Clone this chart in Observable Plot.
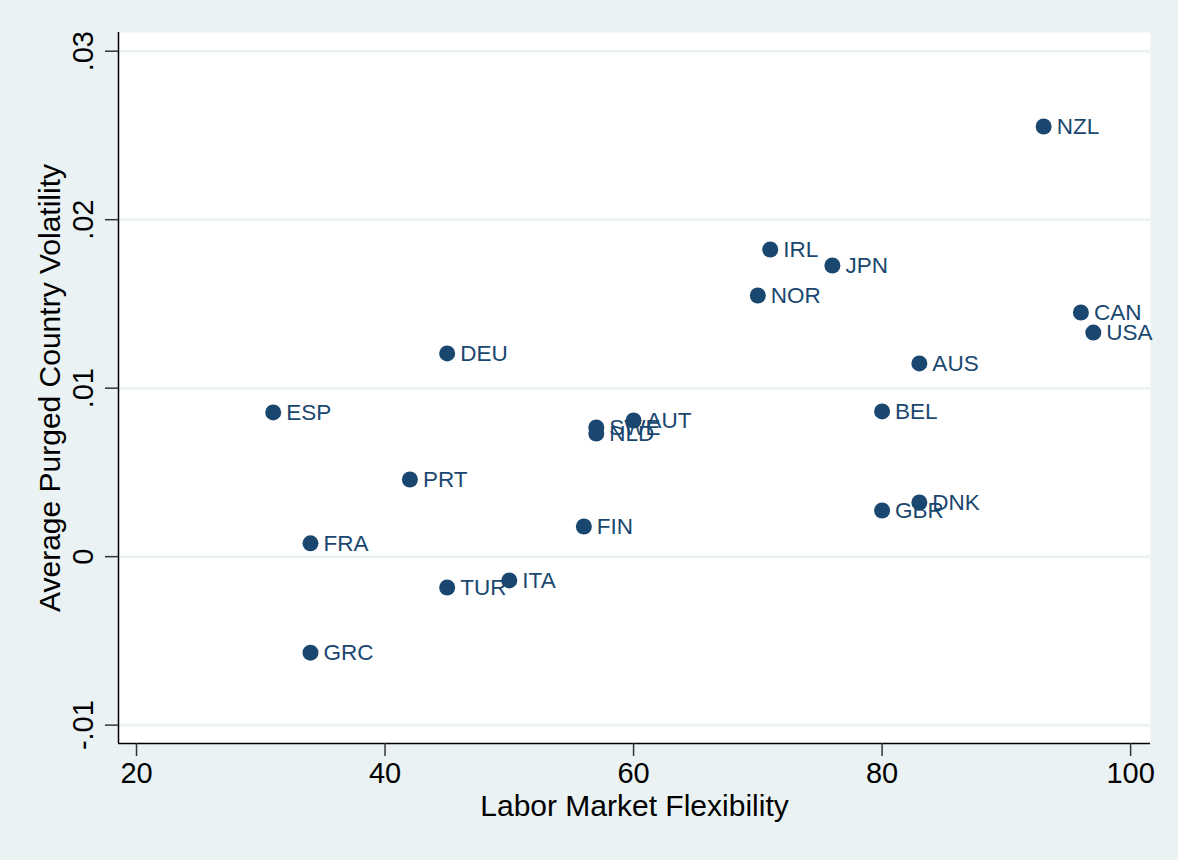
<!DOCTYPE html>
<html>
<head>
<meta charset="utf-8">
<script src="https://cdn.jsdelivr.net/npm/d3@7"></script>
<script src="https://cdn.jsdelivr.net/npm/@observablehq/plot@0.6"></script>
<style>
  html, body { margin: 0; padding: 0; background: #eaf2f3; }
  #chart svg { display: block; }
</style>
</head>
<body>
<div id="chart"></div>
<script>
// Data
const countries = ["NZL","IRL","JPN","NOR","CAN","USA","AUS","DEU","ESP","BEL","AUT","SWE","NLD","PRT","DNK","GBR","FIN","FRA","ITA","TUR","GRC"];
const flexibility = [93, 71, 76, 70, 96, 97, 83, 45, 31, 80, 60, 57, 57, 42, 83, 80, 56, 34, 50, 45, 34];
const volatility = [0.02553, 0.01823, 0.01728, 0.0155, 0.01449, 0.0133, 0.01147, 0.01206, 0.00856, 0.00862, 0.00808, 0.00767, 0.00731, 0.00458, 0.00322, 0.00274, 0.00179, 0.00079, -0.00141, -0.00183, -0.0057];

const xTicks = [20, 40, 60, 80, 100];
const yTicks = [-0.01, 0, 0.01, 0.02, 0.03];
const yTickLabels = ["-.01", "0", ".01", ".02", ".03"];
const xTitle = "Labor Market Flexibility";
const yTitle = "Average Purged Country Volatility";

const data = countries.map((c, i) => ({country: c, x: flexibility[i], y: volatility[i]}));
const yLab = yTicks.map((v, i) => ({v, label: yTickLabels[i]}));

const xDomain = [18.55, 101.6];
const yDomain = [-0.01109, 0.03111];
const navy = "#1a476f";
const font = "'Liberation Sans', Arial, Helvetica, sans-serif";

const chart = Plot.plot({
  width: 1178,
  height: 860,
  marginLeft: 118,
  marginRight: 28,
  marginTop: 32,
  marginBottom: 117,
  style: {background: "#eaf2f3", fontFamily: font, overflow: "visible"},
  x: {domain: xDomain, axis: null, label: null},
  y: {domain: yDomain, axis: null, label: null},
  marks: [
    Plot.frame({fill: "white", stroke: null}),
    Plot.ruleY(yTicks, {y: d => d, stroke: "#eaf2f3", strokeWidth: 2.5}),
    Plot.ruleX([xDomain[0]], {stroke: "#000", strokeWidth: 1.5}),
    Plot.ruleY([yDomain[0]], {stroke: "#000", strokeWidth: 1.5}),
    Plot.axisX({ticks: xTicks, label: null, tickSize: 13, tickPadding: 6, tickFormat: d => String(d), fontSize: 29, fill: "#000", stroke: "#333", strokeWidth: 1.5}),
    Plot.axisY({ticks: yTicks, label: null, tickSize: 13, tickFormat: () => "", stroke: "#333", strokeWidth: 1.5}),
    Plot.text(yLab, {y: "v", text: "label", frameAnchor: "left", dx: -35, rotate: -90, textAnchor: "middle", lineAnchor: "middle", fontSize: 29, fill: "#000"}),
    Plot.text([xTitle], {text: d => d, frameAnchor: "bottom", dy: 63, lineAnchor: "middle", fontSize: 30, fill: "#000"}),
    Plot.text([yTitle], {text: d => d, frameAnchor: "left", dx: -68, rotate: -90, lineAnchor: "middle", textAnchor: "middle", fontSize: 30, fill: "#000"}),
    Plot.dot(data, {x: "x", y: "y", r: 8, fill: navy, stroke: null}),
    Plot.text(data, {x: "x", y: "y", text: "country", dx: 13, textAnchor: "start", lineAnchor: "middle", fontSize: 22.5, fill: navy})
  ]
});
document.getElementById("chart").appendChild(chart);
</script>
</body>
</html>
